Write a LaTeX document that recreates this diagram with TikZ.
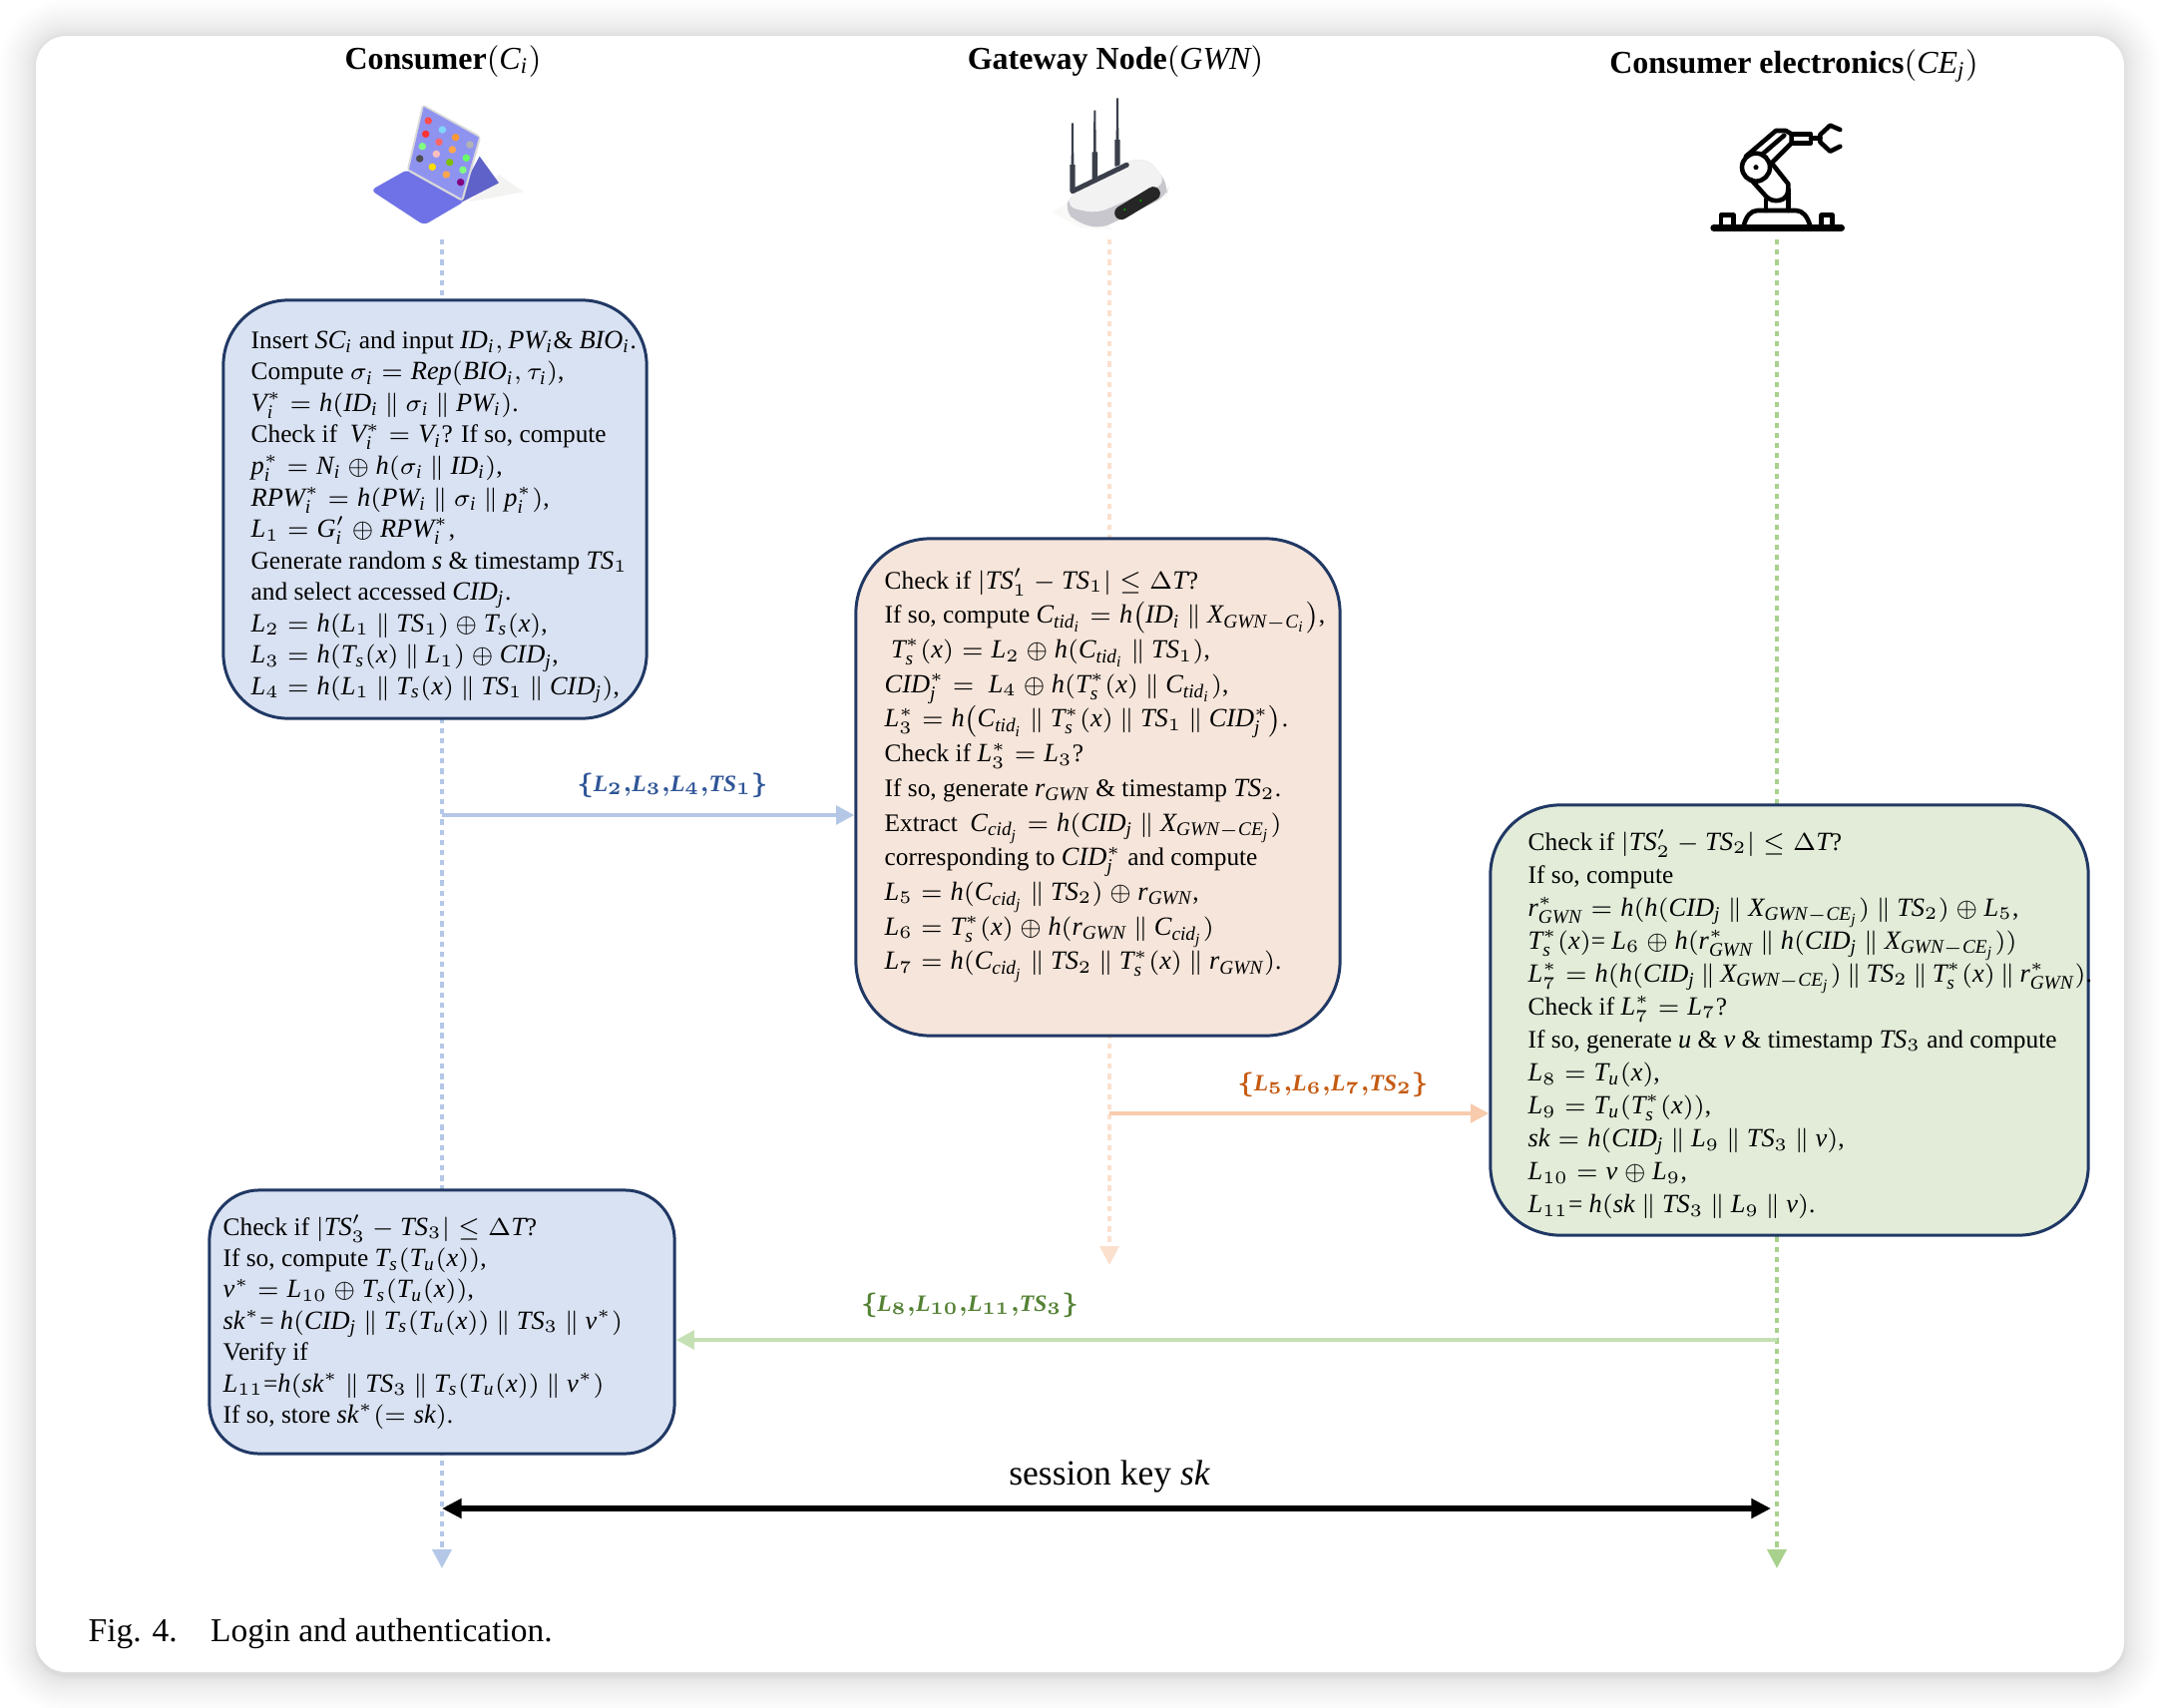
\documentclass[tikz,border=0pt]{standalone}
\usepackage{amsmath}
\usepackage{amssymb}
\usepackage{fontspec}
\setmainfont{Liberation Serif}
\usetikzlibrary{
  arrows.meta,
  calc
}
\DeclareSymbolFont{latin}{TU}{\rmdefault}{m}{it}
\SetSymbolFont{latin}{bold}{TU}{\rmdefault}{b}{it}
\newcommand{\mathletter}[1]{\DeclareMathSymbol{#1}{\mathalpha}{latin}{`#1}}
\mathletter{B}\mathletter{C}\mathletter{D}\mathletter{E}\mathletter{G}\mathletter{I}
\mathletter{L}\mathletter{N}\mathletter{O}\mathletter{P}\mathletter{R}\mathletter{S}
\mathletter{T}\mathletter{V}\mathletter{W}\mathletter{X}\mathletter{c}\mathletter{d}
\mathletter{e}\mathletter{h}\mathletter{i}\mathletter{j}\mathletter{k}\mathletter{p}
\mathletter{r}\mathletter{s}\mathletter{t}\mathletter{u}\mathletter{v}\mathletter{x}
\DeclareMathSizes{7.2}{7.5}{5.5}{4.4}
\DeclareMathSizes{7.4}{6.7}{5}{4}
\newcommand{\con}{\mathbin{\|}}
\newcommand{\fixedlines}{\lineskiplimit=-20pt\relax}
\definecolor{boxblue}{HTML}{D9E2F2}
\definecolor{boxorange}{HTML}{F6E5DA}
\definecolor{boxgreen}{HTML}{E2ECD9}
\definecolor{boxline}{HTML}{203864}
\definecolor{lineblue}{HTML}{B4C7E7}
\definecolor{lineorange}{HTML}{F8CBAD}
\definecolor{linegreen}{HTML}{C5E0B4}
\definecolor{tipgreen}{HTML}{A9D18E}
\definecolor{keyboard}{HTML}{6F72E6}
\definecolor{stand}{HTML}{5F62C8}
\definecolor{screen}{HTML}{8F93F0}
\definecolor{slate}{HTML}{3A3F4A}
\definecolor{labelblue}{HTML}{2F5597}
\definecolor{labelorange}{HTML}{C55A11}
\definecolor{labelgreen}{HTML}{548235}
\tikzset{
  msgbox/.style={draw=boxline, line width=.85pt},
  boxtext/.style={align=left, anchor=north west, inner sep=0pt,
    font=\fontsize{7.2}{#1}\selectfont\fixedlines},
  lifeline/.style={line width=1.1pt, dash pattern=on 1.5pt off 1.4pt,
    -{Triangle[length=5.4pt,width=5.4pt]}},
  msgline/.style={line width=1.4pt, -{Triangle[length=5.2pt,width=5.2pt]}},
  head/.style={font=\fontsize{9.1}{11}\selectfont\bfseries},
  msglabel/.style={font=\fontsize{7.4}{9}\selectfont\boldmath}
}

\begin{document}
\begin{tikzpicture}[x=0.01cm, y=-0.01cm]
  \def\Xa{443};
  \def\Xb{1112};
  \def\Xc{1781};
  \useasboundingbox (0,0) rectangle (2166,1712);
  % card
  \foreach \i in {1,...,18}
    \fill[black, opacity=.008, rounded corners=.3cm + \i*\i*.0011cm]
      (36-\i*\i/9, 36-\i*\i/9) rectangle (2129+\i*\i/9, 1680+\i*\i/9);
  \fill[white, rounded corners=.3cm] (36,36) rectangle (2129,1676);

  \node[head] (headA) at (444,62) {Consumer$(C_i)$};
  \node[head] (headB) at (1118,62) {Gateway Node$(GWN)$};
  \node[head] (headC) at (1798,66) {Consumer electronics$(CE_j)$};

  % tablet
  \begin{scope}[shift={(360,95)}, scale=1/3]
    \fill[yellow!8!black!6!white] (420,240) -- (495,292) -- (330,322) -- cycle;
    \fill[stand] (362,185) -- (420,265) -- (310,322) -- (300,300) -- cycle;
    \fill[rounded corners=1.5pt, keyboard] (35,287) -- (145,225) -- (318,320) -- (195,392) -- cycle;
    \fill[rounded corners=1pt, black!15!white] (190,28) -- (367,125) -- (312,322) -- (143,228) -- cycle;
    \fill[screen] (194,36) -- (360,128) -- (308,312) -- (150,224) -- cycle;
    \foreach \u/\v/\col in {208/78/red!70!white, 200/118/red!80!white, 250/105/cyan!50!white,
        290/128/orange!80!white, 240/142/red!60!white, 190/155/green!50!white,
        333/150/black!30!white, 280/165/orange!70!white, 232/178/red!25!white,
        182/192/black!70!white, 272/203/green!50!orange, 322/190/green!60!white,
        220/217/yellow!80!orange, 312/226/green!50!white, 262/240/orange!70!white,
        305/263/red!50!blue}
      \fill[\col, rounded corners=1pt] (\u-11,\v-11) rectangle (\u+11,\v+11);
  \end{scope}

  % router
  \begin{scope}[shift={(1040,90)}, scale=1/3]
    \fill[yellow!8!black!3!white] (45,370) -- (100,330) -- (230,420) -- (130,415) -- cycle;
    \foreach \u/\v/\w in {105/100/305, 172/62/268, 240/25/230}
      \fill[slate] (\u-3,\v) -- (\u+3,\v) -- (\u+4,\v+125) -- (\u+8,\v+125) -- (\u+8,\w) -- (\u-8,\w) -- (\u-8,\v+125) -- (\u-4,\v+125) -- cycle;
    \fill[rounded corners=3pt, blue!10!black!22!white] (100,315) -- (270,212) -- (335,208) -- (395,290) -- (385,322) -- (190,418) -- (120,400) -- (80,362) -- cycle;
    \fill[rounded corners=3pt, black!5!white] (100,315) -- (270,212) -- (335,208) -- (388,280) -- (178,372) -- (85,352) -- cycle;
    \draw[line width=1.4pt, slate, line cap=round] (105,305) -- (268,226);
    \draw[line width=3.9pt, black!85!white, line cap=round] (252,370) -- (348,312);
    \foreach \u/\v in {262/360, 310/333}
      \fill[green!60!black] (\u,\v) circle (1pt);
  \end{scope}

  % robot arm
  \begin{scope}[shift={(1705,115)}, scale=1/3, line width=1.3pt, line join=round, line cap=round]
    \draw[line width=1.9pt] (38,340) -- (422,340);
    \draw (60,335) -- (60,302) -- (98,302) -- (98,335);
    \draw (362,335) -- (362,302) -- (395,302) -- (395,335);
    \draw (128,335) .. controls (135,305) and (150,288) .. (170,288) -- (285,288) .. controls (305,288) and (320,305) .. (328,335);
    \draw (195,288) -- (195,255);
    \draw (262,288) -- (262,225);
    \draw (150,195) -- (195,245) .. controls (215,268) and (262,262) .. (262,225) -- (262,208) -- (212,145);
    \draw (135,125) -- (225,48) -- (255,48) -- (272,58) -- (272,85) -- (212,145);
    \draw (185,118) -- (250,62);
    \draw (272,58) -- (330,58) -- (330,85) -- (272,85);
    \draw (165,158) circle (42 and 42);
    \fill (165,158) circle (2.2pt);
    \draw (330,70) -- (358,70);
    \draw (418,45) -- (388,32) -- (358,60) -- (358,82) -- (388,110) -- (418,95);
  \end{scope}

  \coordinate (topA) at (\Xa,240);
  \coordinate (topB) at (\Xb,240);
  \coordinate (topC) at (\Xc,240);
  \coordinate (endA) at (\Xa,1572);
  \coordinate (endB) at (\Xb,1268);
  \coordinate (endC) at (\Xc,1572);
  \draw[lifeline, lineblue] (topA) -- (endA);
  \draw[lifeline, lineorange!60!white] (topB) -- (endB);
  \draw[lifeline, tipgreen] (topC) -- (endC);

  \node[msgbox, fill=boxblue, minimum width=4.24cm, minimum height=4.19cm, rounded corners=.65cm] (boxA) at (436,510.5) {};
  \node[msgbox, fill=boxorange, minimum width=4.85cm, minimum height=4.98cm, rounded corners=.75cm] (boxB) at (1100.5,789) {};
  \node[msgbox, fill=boxgreen, minimum width=5.99cm, minimum height=4.31cm, rounded corners=.7cm] (boxC) at (1793.5,1022.5) {};
  \node[msgbox, fill=boxblue, minimum width=4.66cm, minimum height=2.64cm, rounded corners=.5cm] (boxD) at (443,1325) {};

  \coordinate (msgA) at (\Xa,817);
  \coordinate (msgB) at (\Xb,1116);
  \coordinate (msgC) at (\Xc,1343);
  \draw[msgline, lineblue] (msgA) -- (boxB.west |- msgA);
  \draw[msgline, lineorange] (msgB) -- (boxC.west |- msgB);
  \draw[msgline, linegreen] (msgC) -- (boxD.east |- msgC);

  \node[msglabel, text=labelblue] (labelA) at (674,787) {$\{L_2{,}L_3{,}L_4{,}TS_1\}$};
  \node[msglabel, text=labelorange] (labelB) at (1336,1087) {$\{L_5{,}L_6{,}L_7{,}TS_2\}$};
  \node[msglabel, text=labelgreen] (labelC) at (972,1308) {$\{L_8{,}L_{10}{,}L_{11}{,}TS_3\}$};

  \node[boxtext=8.97pt] (textA) at (251,331) {%
    Insert $SC_i$ and input $ID_i,PW_i$\& $BIO_i$.\\
    Compute $\sigma_i=Rep(BIO_i,\tau_i)$,\\
    $V_i^*=h(ID_i\con\sigma_i\con PW_i)$.\\
    Check if\ \ $V_i^*=V_i$? If so, compute\\
    $p_i^*=N_i\oplus h(\sigma_i\con ID_i)$,\\
    $RPW_i^*=h(PW_i\con\sigma_i\con p_i^*)$,\\
    $L_1=G_i'\oplus RPW_i^*$,\\
    Generate random $s$ \& timestamp $TS_1$\\
    and select accessed $CID_j$.\\
    $L_2=h(L_1\con TS_1)\oplus T_s(x)$,\\
    $L_3=h(T_s(x)\con L_1)\oplus CID_j$,\\
    $L_4=h(L_1\con T_s(x)\con TS_1\con CID_j)$,};

  \node[boxtext=9.87pt] (textB) at (886,569) {%
    Check if $|TS_1'-TS_1|\le\Delta T$?\\
    If so, compute $C_{tid_i}=h\bigl(ID_i\con X_{GWN-C_i}\bigr)$,\\
    \ $T_s^*(x)=L_2\oplus h(C_{tid_i}\con TS_1)$,\\
    $CID_j^*=\ L_4\oplus h(T_s^*(x)\con C_{tid_i})$,\\
    $L_3^*=h\bigl(C_{tid_i}\con T_s^*(x)\con TS_1\con CID_j^*\bigr)$.\\
    Check if $L_3^*=L_3$?\\
    If so, generate $r_{GWN}$ \& timestamp $TS_2$.\\
    Extract\ \ $C_{cid_j}=h(CID_j\con X_{GWN-CE_j})$\\
    corresponding to $CID_j^*$ and compute\\
    $L_5=h(C_{cid_j}\con TS_2)\oplus r_{GWN}$,\\
    $L_6=T_s^*(x)\oplus h(r_{GWN}\con C_{cid_j})$\\
    $L_7=h(C_{cid_j}\con TS_2\con T_s^*(x)\con r_{GWN})$.};

  \node[boxtext=9.4pt] (textC) at (1531,831) {%
    Check if $|TS_2'-TS_2|\le\Delta T$?\\
    If so, compute\\
    $r_{GWN}^*=h(h(CID_j\con X_{GWN-CE_j})\con TS_2)\oplus L_5$,\\
    $T_s^*(x)$= $L_6\oplus h(r_{GWN}^*\con h(CID_j\con X_{GWN-CE_j}))$\\
    $\medmuskip=3.2mu L_7^*=h(h(CID_j\con X_{GWN-CE_j})\con TS_2\con T_s^*(x)\con r_{GWN}^*)$.\\
    Check if $L_7^*=L_7$?\\
    If so, generate $u$ \& $v$ \& timestamp $TS_3$ and compute\\
    $L_8=T_u(x)$,\\
    $L_9=T_u(T_s^*(x))$,\\
    $sk=h(CID_j\con L_9\con TS_3\con v)$,\\
    $L_{10}=v\oplus L_9$,\\
    $L_{11}$= $h(sk\con TS_3\con L_9\con v)$.};

  \node[boxtext=8.93pt] (textD) at (223,1217) {%
    Check if $|TS_3'-TS_3|\le\Delta T$?\\
    If so, compute $T_s(T_u(x))$,\\
    $v^*=L_{10}\oplus T_s(T_u(x))$,\\
    $sk^*$= $h(CID_j\con T_s(T_u(x))\con TS_3\con v^*)$\\
    Verify if\\
    $L_{11}$=$h(sk^*\con TS_3\con T_s(T_u(x))\con v^*)$\\
    If so, store $sk^*(=sk)$.};

  \coordinate (keyA) at (\Xa,1512);
  \coordinate (keyC) at (1775,1512);
  \draw[line width=1.5pt, {Triangle[length=5.6pt,width=5.4pt]}-{Triangle[length=5.6pt,width=5.4pt]}] (keyA) -- (keyC);
  \node[font=\fontsize{10.1}{12}\selectfont] (keylabel) at (1112,1480) {session key $sk$};

  \node[font=\fontsize{9.5}{12}\selectfont, anchor=base west, inner sep=0pt] (caption) at (88,1645) {Fig. 4.\hspace{1em}Login and authentication.};
\end{tikzpicture}
\end{document}
